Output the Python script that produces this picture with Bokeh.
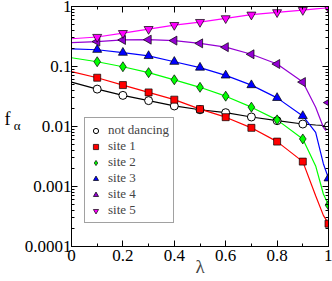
from bokeh.plotting import figure
from bokeh.models import (Range1d, FixedTicker, SingleIntervalTicker, LinearAxis,
                          LogAxis, Legend, LegendItem)
from bokeh.embed import file_html
from bokeh.resources import INLINE
import math

# ---- data ----
lam = [0.1, 0.2, 0.3, 0.4, 0.5, 0.6, 0.7, 0.8, 0.9, 1.0]
not_dancing = [0.042, 0.033, 0.027, 0.022, 0.019, 0.017, 0.0144, 0.0125, 0.011, 0.0103]
site1 = [0.065, 0.049, 0.037, 0.028, 0.0195, 0.0143, 0.0095, 0.0056, 0.0026, 0.00024]
site2 = [0.12, 0.099, 0.079, 0.06, 0.045, 0.032, 0.021, 0.0129, 0.0062, 0.00049]
site3 = [0.19, 0.17, 0.15, 0.12, 0.096, 0.071, 0.049, 0.030, 0.015, 0.00137]
site4 = [0.26, 0.277, 0.28, 0.27, 0.243, 0.21, 0.16, 0.11, 0.055, 0.025]
site5 = [0.31, 0.36, 0.42, 0.49, 0.55, 0.635, 0.73, 0.80, 0.87, 0.95]

# fitted curves
lam_curve = [0, 0.1, 0.2, 0.3, 0.4, 0.5, 0.6, 0.7, 0.8, 0.9, 0.95, 0.98, 1.0]
lam_curve4 = [0, 0.1, 0.2, 0.3, 0.4, 0.5, 0.6, 0.7, 0.8, 0.9, 0.95, 0.98, 0.99]
nd_curve = [0.055, 0.042, 0.033, 0.027, 0.022, 0.019, 0.017, 0.0144, 0.0125, 0.011, 0.0106, 0.0104, 0.0103]
s1_curve = [0.082, 0.065, 0.049, 0.037, 0.028, 0.0195, 0.0143, 0.0095, 0.0056, 0.0026, 0.0007, 0.00033, 0.00024]
s2_curve = [0.14, 0.12, 0.099, 0.079, 0.06, 0.045, 0.032, 0.021, 0.0129, 0.0062, 0.0022, 0.00075, 0.00049]
s3_curve = [0.196, 0.19, 0.17, 0.15, 0.12, 0.096, 0.071, 0.049, 0.030, 0.015, 0.008, 0.0024, 0.00137]
s4_curve = [0.25, 0.26, 0.277, 0.28, 0.27, 0.243, 0.21, 0.16, 0.11, 0.055, 0.021, 0.0097, 0.0085]
s5_curve = [0.29, 0.31, 0.36, 0.42, 0.49, 0.55, 0.635, 0.73, 0.80, 0.87, 0.91, 0.935, 0.95]

labels = ["not dancing", "site 1", "site 2", "site 3", "site 4", "site 5"]
y_ticks = [1e-4, 1e-3, 1e-2, 1e-1, 1]
y_tick_labels = ["0.0001", "0.001", "0.01", "0.1", "1"]
y_title = "f"
y_title_sub = "α"
x_title = "λ"

FONT = "Liberation Serif"

p = figure(width=332, height=281, x_range=Range1d(0, 1), y_range=Range1d(1e-4, 1),
           y_axis_type="log", output_backend="svg", toolbar_location=None,
           min_border_left=71, min_border_right=4, min_border_top=6, min_border_bottom=35)
p.xgrid.visible = False
p.ygrid.visible = False
p.outline_line_color = "black"
p.background_fill_color = "white"

minor = [k * 10.0 ** e for e in range(-4, 0) for k in range(2, 10)]
yt = FixedTicker(ticks=y_ticks, minor_ticks=minor)
xt = SingleIntervalTicker(interval=0.2, num_minor_ticks=2)


def style(ax):
    ax.axis_line_color = "black"
    ax.major_tick_in = 6
    ax.major_tick_out = 0
    ax.minor_tick_in = 3
    ax.minor_tick_out = 0
    ax.major_tick_line_color = "black"
    ax.minor_tick_line_color = "black"
    ax.major_label_text_font = FONT
    ax.major_label_text_font_size = "17px"
    ax.major_label_text_color = "black"


xa = p.xaxis[0]
style(xa)
xa.ticker = xt
xa.major_label_overrides = {0: "0", 0.2: "0.2", 0.4: "0.4", 0.6: "0.6", 0.8: "0.8", 1: "1"}
xa.major_label_standoff = 3
xa.axis_label = x_title
xa.axis_label_text_font = FONT
xa.axis_label_text_font_size = "19px"
xa.axis_label_text_font_style = "normal"
xa.axis_label_standoff = -8

ya = p.yaxis[0]
style(ya)
ya.ticker = yt
ya.major_label_overrides = {t: s for t, s in zip(y_ticks, y_tick_labels)}
ya.major_label_standoff = 0

top = LinearAxis(ticker=SingleIntervalTicker(interval=0.2, num_minor_ticks=2))
style(top)
top.major_label_text_font_size = "1px"
top.major_label_text_alpha = 0
top.major_label_standoff = 0
p.add_layout(top, "above")
right = LogAxis(ticker=FixedTicker(ticks=y_ticks, minor_ticks=minor))
style(right)
right.major_label_text_font_size = "1px"
right.major_label_text_alpha = 0
right.major_label_standoff = 0
p.add_layout(right, "right")


# y title "f_alpha" written as two label-only axes (horizontal text outside the frame)
def title_axis(pos, text, size, standoff):
    ax = LogAxis(ticker=FixedTicker(ticks=[pos], minor_ticks=[]),
                 major_label_overrides={pos: text})
    ax.axis_line_color = None
    ax.major_tick_line_color = None
    ax.minor_tick_line_color = None
    ax.major_tick_in = 0
    ax.major_tick_out = 0
    ax.minor_tick_in = 0
    ax.minor_tick_out = 0
    ax.major_label_standoff = standoff
    ax.major_label_text_font = FONT
    ax.major_label_text_font_size = size
    ax.major_label_text_color = "black"
    return ax


p.add_layout(title_axis(0.0102, y_title_sub, "13px", 1), "left")
p.add_layout(title_axis(0.0133, y_title, "18px", 0), "left")

# curves
p.line(lam_curve, nd_curve, line_color="black", line_width=1.2)
p.line(lam_curve, s1_curve, line_color="#ff0000", line_width=1.2)
p.line(lam_curve, s2_curve, line_color="#00ff00", line_width=1.2)
p.line(lam_curve, s3_curve, line_color="#0000ff", line_width=1.2)
p.line(lam_curve4, s4_curve, line_color="#9400d3", line_width=1.2)
p.line(lam_curve, s5_curve, line_color="#ff00ff", line_width=1.2)

# markers
styles = [
    dict(marker="circle", size=8, fill_color="white", line_color="black", line_width=1),
    dict(marker="square", size=7, fill_color="#ff0000", line_color="black", line_width=0.7),
    dict(marker="diamond", size=10, fill_color="#00ff00", line_color="black", line_width=0.7),
    dict(marker="triangle", size=9, fill_color="#0000ff", line_color="black", line_width=0.7),
    dict(marker="triangle", angle=math.pi / 2, size=9, fill_color="#9400d3", line_color="black", line_width=0.7),
    dict(marker="inverted_triangle", size=9, fill_color="#ff00ff", line_color="black", line_width=0.7),
]
series = [not_dancing, site1, site2, site3, site4, site5]
renderers = [p.scatter(lam, vals, **st) for vals, st in zip(series, styles)]

legend = Legend(items=[LegendItem(label=l, renderers=[r]) for l, r in zip(labels, renderers)],
                location=(13, 23), label_text_font=FONT, label_text_font_size="13px",
                label_height=13, glyph_height=13, glyph_width=13, spacing=0, padding=4,
                margin=0, label_standoff=6, border_line_color="#444444", border_line_width=1,
                background_fill_color="white", background_fill_alpha=1)
p.add_layout(legend)

open("out.html", "w").write(file_html(p, INLINE))
